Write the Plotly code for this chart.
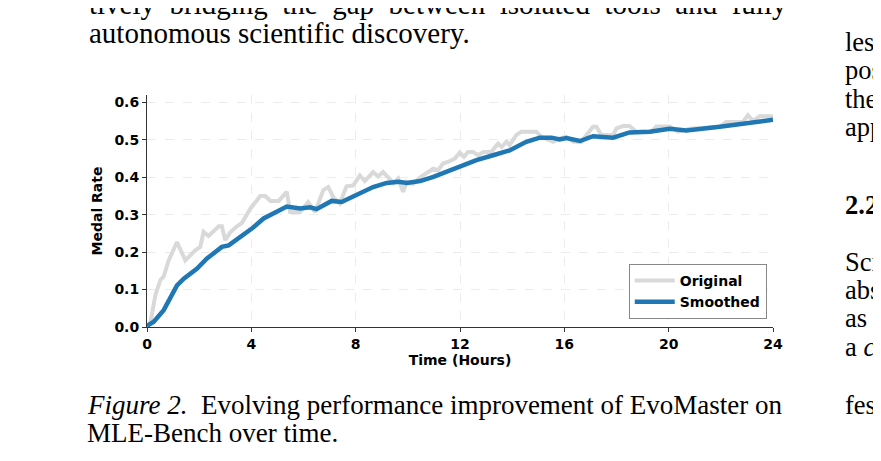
import plotly.graph_objects as go

# raw medal rate
hours_orig = [0.0, 0.13, 0.32, 0.51, 0.64, 0.83, 1.15, 1.47, 1.85, 2.04, 2.17, 2.36,
              2.75, 2.87, 3.0, 3.2, 3.45, 3.64, 3.96, 4.34, 4.54, 4.73, 5.05, 5.36,
              5.49, 5.87, 6.18, 6.44, 6.76, 6.95, 7.14, 7.39, 7.65, 7.9, 8.16, 8.35,
              8.67, 8.86, 9.05, 9.25, 9.45, 9.63, 9.82, 9.95, 10.2, 10.5, 10.78, 10.97,
              11.16, 11.35, 11.54, 11.8, 11.99, 12.15, 12.31, 12.5, 12.7, 12.9, 13.2,
              13.46, 13.6, 13.78, 13.9, 14.16, 14.35, 14.93, 15.12, 15.57, 15.82, 16.08,
              16.34, 16.66, 16.85, 17.1, 17.23, 17.42, 17.87, 18.0, 18.25, 18.5, 18.76,
              19.34, 19.53, 20.04, 20.36, 20.81, 21.96, 22.2, 22.85, 23.04, 23.23, 23.49,
              24.0]
medal_orig = [0.0, 0.012, 0.085, 0.125, 0.135, 0.178, 0.227, 0.178, 0.205, 0.214, 0.254, 0.243,
              0.269, 0.269, 0.232, 0.254, 0.269, 0.278, 0.316, 0.350, 0.350, 0.337, 0.337, 0.361,
              0.307, 0.307, 0.334, 0.307, 0.366, 0.374, 0.347, 0.330, 0.376, 0.378, 0.405, 0.390,
              0.414, 0.402, 0.414, 0.401, 0.385, 0.397, 0.361, 0.388, 0.383, 0.401, 0.414, 0.423,
              0.419, 0.437, 0.441, 0.450, 0.466, 0.455, 0.468, 0.468, 0.459, 0.468, 0.468,
              0.490, 0.481, 0.495, 0.486, 0.513, 0.522, 0.522, 0.508, 0.495, 0.504, 0.508,
              0.495, 0.495, 0.513, 0.535, 0.535, 0.513, 0.513, 0.531, 0.537, 0.537, 0.522,
              0.522, 0.536, 0.536, 0.522, 0.530, 0.535, 0.548, 0.548, 0.566, 0.551, 0.563,
              0.563]

# smoothed curve, also
hours_smooth = [0.0, 0.26, 0.64, 1.15, 1.41, 1.92, 2.3, 2.87, 3.13, 3.7, 4.02, 4.47, 4.92,
                5.36, 5.87, 6.25, 6.5, 7.08, 7.46, 8.17, 8.67, 9.19, 9.64, 9.96, 10.47,
                10.98, 11.62, 11.99, 12.63, 13.27, 13.9, 14.54, 15.06, 15.51, 15.82, 16.08,
                16.6, 17.1, 17.87, 18.5, 19.27, 20.04, 20.68, 21.96, 22.98, 24.0]
medal_smooth = [0.003, 0.014, 0.045, 0.111, 0.129, 0.156, 0.183, 0.214, 0.218, 0.245, 0.263,
                0.290, 0.307, 0.322, 0.317, 0.320, 0.315, 0.337, 0.334, 0.357, 0.374, 0.385,
                0.388, 0.385, 0.390, 0.401, 0.419, 0.428, 0.446, 0.459, 0.472, 0.495, 0.506,
                0.506, 0.501, 0.505, 0.497, 0.510, 0.506, 0.520, 0.522, 0.530, 0.525, 0.535,
                0.543, 0.554]

x_ticks = [0, 4, 8, 12, 16, 20, 24]
y_ticks = [0.0, 0.1, 0.2, 0.3, 0.4, 0.5, 0.6]

# surrounding page text (left column above / caption below, right column cut off)
top_lines = ['tively bridging the gap between isolated tools and fully',
             'autonomous scientific discovery.']
caption_lines = ['<i>Figure 2.</i>  Evolving performance improvement of EvoMaster on',
                 'MLE-Bench over time.']
right_col = ['les', 'pos', 'the', 'app', '<b>2.2</b>', 'Sci', 'abs', 'as a', 'a <i>c</i>', 'fes']
right_col_y = [42, 70, 99, 127, 205, 262, 290, 318, 347, 405]

W, H = 881, 461
OFF = 8  # body margin the html page puts round the plot div
ML, MR, MT, MB = 139, 116, 87, 142
SANS = 'DejaVu Sans'
SERIF = 'Liberation Serif'


def px_x(px):
    # page pixel -> paper fraction
    return (px - OFF - ML) / (W - ML - MR)


def px_y(py):
    return (H - MB - (py - OFF)) / (H - MT - MB)


fig = go.Figure()
fig.add_trace(go.Scatter(x=hours_orig, y=medal_orig, mode='lines', name='Original',
                         line=dict(color='#d9d9d9', width=4)))
fig.add_trace(go.Scatter(x=hours_smooth, y=medal_smooth, mode='lines', name='Smoothed',
                         line=dict(color='#1f77b4', width=4.5)))

annots = []
# first body line is justified in the paper, so widen its word gaps a bit
justified = top_lines[0].replace(' ', ' \u00a0')
annots.append(dict(text=justified, x=px_x(87), y=px_y(4), xanchor='left', yanchor='middle',
                   font=dict(family=SERIF, size=29, color='black')))
annots.append(dict(text=top_lines[1], x=px_x(87), y=px_y(33), xanchor='left', yanchor='middle',
                   font=dict(family=SERIF, size=29, color='black')))
for i, t in enumerate(caption_lines):
    annots.append(dict(text=t, x=px_x(85), y=px_y(405 + 28 * i), xanchor='left', yanchor='middle',
                       font=dict(family=SERIF, size=27, color='black')))
for t, yy in zip(right_col, right_col_y):
    annots.append(dict(text=t, x=px_x(843), y=px_y(yy), xanchor='left', yanchor='middle',
                       font=dict(family=SERIF, size=26.5, color='black')))
for a in annots:
    a.update(xref='paper', yref='paper', showarrow=False)

fig.update_layout(
    width=W, height=H, autosize=False,
    margin=dict(l=ML, r=MR, t=MT, b=MB),
    paper_bgcolor='white', plot_bgcolor='white',
    font=dict(family=SANS, size=14, color='black'),
    showlegend=True,
    legend=dict(x=0.99, y=0.035, xanchor='right', yanchor='bottom',
                bgcolor='white', bordercolor='#888', borderwidth=1,
                font=dict(family=SANS, size=14, color='black', weight='bold'),
                itemwidth=40, tracegroupgap=0),
    annotations=annots,
)
fig.update_xaxes(
    range=[0, 24], tickvals=x_ticks, ticktext=['<b>%d</b>' % v for v in x_ticks],
    showline=True, linecolor='#333', linewidth=1, mirror=False,
    ticks='outside', ticklen=4, tickcolor='#333',
    showgrid=True, gridcolor='#ececec', griddash='dash', gridwidth=1, zeroline=False,
    title=dict(text='<b>Time (Hours)</b>', font=dict(size=14), standoff=2),
)
fig.update_yaxes(
    range=[0, 0.62], tickvals=y_ticks, ticktext=['<b>%.1f</b>' % v for v in y_ticks],
    showline=True, linecolor='#333', linewidth=1, mirror=False,
    ticks='outside', ticklen=4, tickcolor='#333',
    showgrid=True, gridcolor='#ececec', griddash='dash', gridwidth=1, zeroline=False,
    title=dict(text='<b>Medal Rate</b>', font=dict(size=14), standoff=8),
)

fig.write_html('out.html')
